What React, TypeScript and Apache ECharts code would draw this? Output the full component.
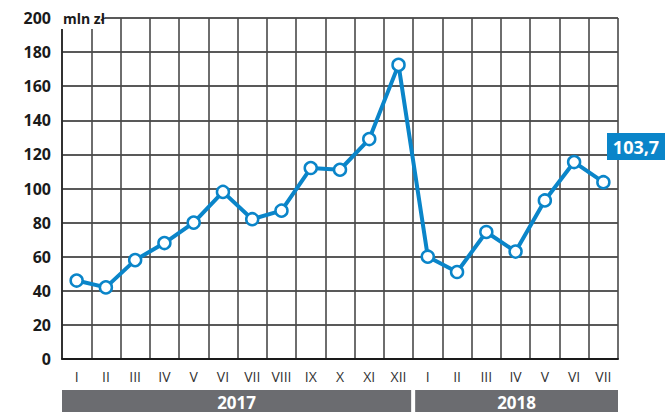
import React, { useEffect, useRef } from "react";
import * as echarts from "echarts";

const months = ["I", "II", "III", "IV", "V", "VI", "VII", "VIII", "IX", "X", "XI", "XII", "I", "II", "III", "IV", "V", "VI", "VII"];
const values = [46, 42, 58, 68, 80, 98, 82, 87, 112, 111, 129, 172.5, 60, 51, 74.5, 63, 93, 115.5, 103.7];
const years = ["2017", "2018"];
const yearMonths = [12, 7];
const yTicks = [0, 20, 40, 60, 80, 100, 120, 140, 160, 180, 200];
const unitLabel = "mln zł";
const lastLabel = "103,7";

const W = 665, H = 412;
const GL = 62, GR = 618, GT = 18, GB = 359;

export default function App() {
  const ref = useRef<HTMLDivElement>(null);
  useEffect(() => {
    const chart = echarts.init(ref.current!, null, { renderer: "svg" });
    const catW = (GR - GL) / months.length;
    const bands: any[] = [];
    let start = 0;
    years.forEach((y, i) => {
      const x0 = GL + start * catW + (i > 0 ? 2 : 0);
      const x1 = GL + (start + yearMonths[i]) * catW - (i < years.length - 1 ? 2 : 0);
      bands.push({
        type: "rect",
        shape: { x: x0, y: 390, width: x1 - x0, height: 22 },
        style: { fill: "#6b6c70" },
      });
      bands.push({
        type: "text",
        x: (x0 + x1) / 2,
        y: 402,
        style: {
          text: y,
          fill: "#fff",
          font: "bold 17px 'Open Sans'",
          textAlign: "center",
          textVerticalAlign: "middle",
        },
      });
      start += yearMonths[i];
    });
    chart.setOption({
      animation: false,
      grid: { left: GL, right: W - GR, top: GT, bottom: H - GB },
      xAxis: {
        type: "category",
        data: months,
        boundaryGap: true,
        axisLine: { show: true, lineStyle: { color: "#1a1a1a", width: 2 } },
        axisTick: { show: false },
        splitLine: { show: true, lineStyle: { color: "#4a4a4a", width: 1.6 } },
        axisLabel: { color: "#333", fontSize: 14, fontFamily: "Open Sans", margin: 10, interval: 0 },
      },
      yAxis: {
        type: "value",
        min: 0,
        max: 200,
        interval: 20,
        axisLine: { show: true, lineStyle: { color: "#222", width: 1.6 } },
        axisTick: { show: false },
        splitLine: { show: true, lineStyle: { color: "#222", width: 1.6 } },
        axisLabel: {
          color: "#1a1a1a",
          fontSize: 16,
          fontWeight: "bold",
          fontFamily: "Open Sans",
          margin: 11,
          customValues: yTicks,
        },
      },
      series: [
        {
          type: "line",
          data: values,
          symbol: "circle",
          symbolSize: 12,
          showAllSymbol: true,
          lineStyle: { color: "#0a85c9", width: 4 },
          itemStyle: { color: "#fff", borderColor: "#0a85c9", borderWidth: 2.5 },
          z: 5,
        },
      ],
      graphic: [
        {
          type: "rect",
          shape: { x: GL - 1, y: 4, width: 44, height: 25 },
          style: { fill: "#fff" },
          z: 10,
        },
        {
          type: "text",
          x: GL + 1,
          y: 18,
          style: {
            text: unitLabel,
            fill: "#1a1a1a",
            font: "bold 14px 'Open Sans'",
            textVerticalAlign: "middle",
          },
          z: 11,
        },
        {
          type: "rect",
          shape: { x: 607, y: 133, width: 58, height: 27 },
          style: { fill: "#0a85c9" },
          z: 10,
        },
        {
          type: "text",
          x: 636,
          y: 147,
          style: {
            text: lastLabel,
            fill: "#fff",
            font: "bold 18px 'Open Sans'",
            textAlign: "center",
            textVerticalAlign: "middle",
          },
          z: 11,
        },
        ...bands,
      ],
    });
    return () => chart.dispose();
  }, []);
  return <div ref={ref} style={{ width: W, height: H, position: "absolute", left: 0, top: 0 }} />;
}
